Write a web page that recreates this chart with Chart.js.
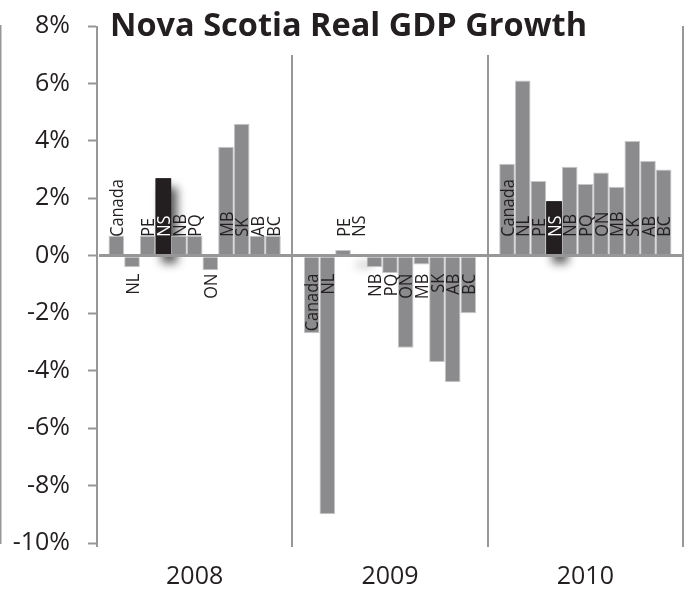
<!DOCTYPE html>
<html>
<head>
<meta charset="utf-8">
<script src="https://cdn.jsdelivr.net/npm/chart.js@4/dist/chart.umd.min.js"></script>
<style>
  html, body { margin: 0; padding: 0; background: #fff; }
  canvas { display: block; }
</style>
</head>
<body>
<canvas id="gdpChart" width="688" height="591"></canvas>
<script>
const TITLE = 'Nova Scotia Real GDP Growth';
const YEARS = ['2008', '2009', '2010'];
const PROVINCES = ['Canada', 'NL', 'PE', 'NS', 'NB', 'PQ', 'ON', 'MB', 'SK', 'AB', 'BC'];
const GROWTH_2008 = [0.7, -0.4, 0.7, 2.7, 0.7, 0.7, -0.5, 3.8, 4.6, 0.7, 0.7];
const GROWTH_2009 = [-2.7, -9.0, 0.2, 0.0, -0.4, -0.6, -3.2, -0.3, -3.7, -4.4, -2.0];
const GROWTH_2010 = [3.2, 6.1, 2.6, 1.9, 3.1, 2.5, 2.9, 2.4, 4.0, 3.3, 3.0];
const Y_MIN = -10;
const Y_MAX = 8;
const Y_STEP = 2;

const HIGHLIGHT = 'NS';
const COLORS = {
    bar:       '#8b8b8e',
    barEdge:   '#c6c6c8',
    highlight: '#231f20',
    axis:      '#979797',
    text:      '#231f20',
};
const FONT = '"Open Sans", "Noto Sans", sans-serif';

// soft drop shadow under the highlighted province, drawn before the bars
// so the neighbouring bars sit on top of it
const highlightShadow = {
    id: 'highlightShadow',
    beforeDatasetsDraw(chart) {
        const { ctx } = chart;
        const meta = chart.getDatasetMeta(PROVINCES.indexOf(HIGHLIGHT));
        ctx.save();
        ctx.shadowColor = 'rgba(0, 0, 0, 0.65)';
        ctx.shadowBlur = 10;
        ctx.shadowOffsetX = 6;
        ctx.shadowOffsetY = 9;
        ctx.fillStyle = COLORS.highlight;
        meta.data.forEach(bar => {
            const { x, y, base, width } = bar.getProps(['x', 'y', 'base', 'width'], true);
            const h = Math.abs(base - y);
            // a flat bar still casts a little shadow; keep its rect under the zero line
            const top = h < 2 ? base - 1 : Math.min(y, base);
            ctx.fillRect(x - width / 2, top, width, Math.max(h, 2));
        });
        ctx.restore();
    },
};

// vertical province names, anchored just off the zero line
const provinceLabels = {
    id: 'provinceLabels',
    afterDatasetsDraw(chart) {
        const { ctx } = chart;
        const zero = chart.scales.y.getPixelForValue(0);
        ctx.save();
        ctx.font = '19px ' + FONT;
        ctx.textBaseline = 'alphabetic';
        chart.data.datasets.forEach((ds, di) => {
            chart.getDatasetMeta(di).data.forEach((bar, i) => {
                const v = ds.data[i];
                const below = v < 0;
                ctx.save();
                ctx.translate(bar.x + 6.8, below ? zero + 18 : zero - 19);
                ctx.rotate(-Math.PI / 2);
                ctx.scale(0.86, 1);
                ctx.textAlign = below ? 'right' : 'left';
                ctx.fillStyle = ds.label === HIGHLIGHT && v > 1 ? '#fff' : COLORS.text;
                ctx.fillText(ds.label, 0, 0);
                ctx.restore();
            });
        });
        ctx.restore();
    },
};

const titleBox = {
    id: 'titleBox',
    afterDraw(chart) {
        const { ctx, chartArea } = chart;
        ctx.save();
        ctx.fillStyle = '#fff';
        ctx.fillRect(chartArea.left + 4, 0, 497, 55);
        ctx.font = 'bold 33px ' + FONT;
        ctx.fillStyle = COLORS.text;
        ctx.textBaseline = 'alphabetic';
        ctx.fillText(TITLE, chartArea.left + 13, 36, 477);
        ctx.restore();
    },
};

const datasets = PROVINCES.map((name, i) => ({
    label: name,
    data: [GROWTH_2008[i], GROWTH_2009[i], GROWTH_2010[i]],
    backgroundColor: name === HIGHLIGHT ? COLORS.highlight : COLORS.bar,
    borderColor: name === HIGHLIGHT ? COLORS.highlight : COLORS.barEdge,
    borderWidth: 1,
    categoryPercentage: 0.882,
    barPercentage: 1,
}));

new Chart(document.getElementById('gdpChart').getContext('2d'), {
    type: 'bar',
    data: { labels: YEARS, datasets },
    options: {
        responsive: false,
        animation: false,
        devicePixelRatio: 1,
        layout: { padding: { top: 26, right: 5, left: 0, bottom: 0 } },
        plugins: {
            legend: { display: false },
            tooltip: { enabled: false },
        },
        scales: {
            x: {
                grid: {
                    offset: true,
                    color: COLORS.axis,
                    lineWidth: 2,
                    tickLength: 4,
                },
                border: { display: false },
                ticks: {
                    font: { family: FONT, size: 25 },
                    color: COLORS.text,
                    padding: 15,
                },
                afterFit: s => { s.height = 48; },
            },
            y: {
                min: Y_MIN,
                max: Y_MAX,
                ticks: {
                    stepSize: Y_STEP,
                    callback: v => v + '%',
                    font: { family: FONT, size: 25 },
                    color: COLORS.text,
                    padding: 18,
                },
                grid: {
                    z: 1,
                    color: c => (c.tick && c.tick.value === 0 ? COLORS.axis : 'rgba(0,0,0,0)'),
                    lineWidth: c => (c.tick && c.tick.value === 0 ? 3 : 1),
                    tickColor: COLORS.axis,
                    tickWidth: 2,
                    tickLength: 9,
                },
                border: { color: COLORS.axis, width: 3 },
                afterFit: s => {
                    s.width = 97;
                    s.paddingTop = 0;
                    s.paddingBottom = 0;
                },
            },
        },
    },
    plugins: [highlightShadow, provinceLabels, titleBox],
});
</script>
</body>
</html>
